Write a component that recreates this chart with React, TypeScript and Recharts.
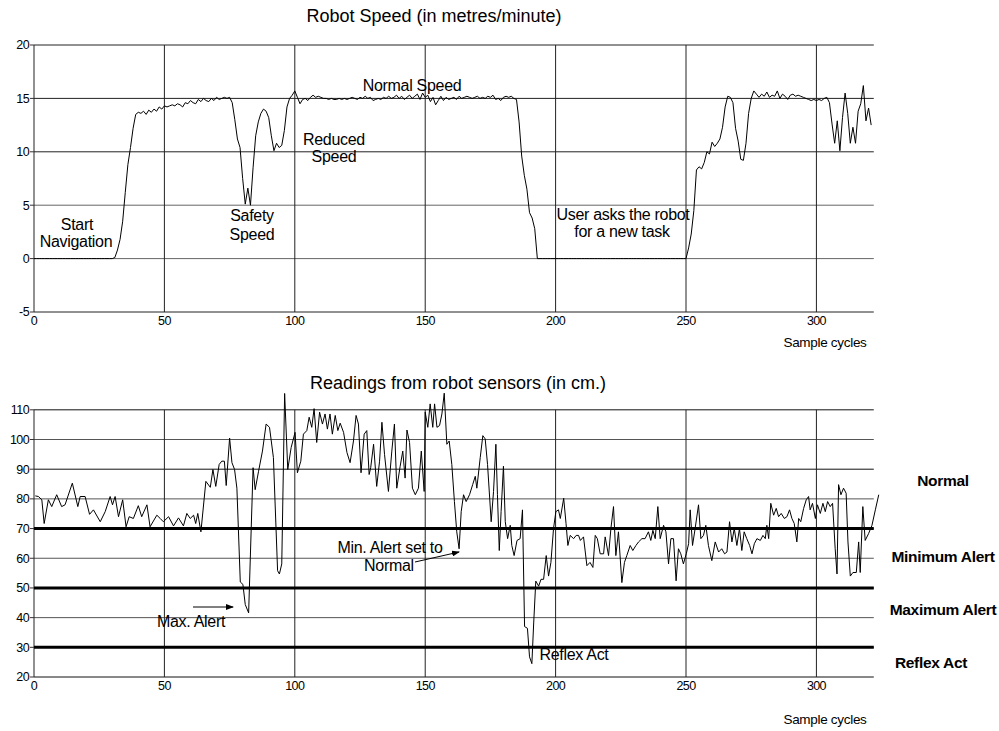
import React from "react";
import { LineChart, Line, XAxis, YAxis, ReferenceLine } from "recharts";

const FONT = '"Liberation Sans", Arial, Helvetica, sans-serif';

// Robot speed, one value per sample cycle (0..321)
const speedValues: number[] = [
  0, 0, 0, 0, 0, 0, 0, 0, 0, 0,
  0, 0, 0, 0, 0, 0, 0, 0, 0, 0,
  0, 0, 0, 0, 0, 0, 0, 0, 0, 0,
  0, 0.1, 0.8, 1.8, 3.5, 6.2, 8.8, 10.4, 12.2, 13.5,
  13.7, 13.6, 13.8, 13.5, 13.9, 13.7, 14.0, 13.8, 14.2, 14.0,
  14.3, 14.2, 14.3, 14.4, 14.3, 14.5, 14.4, 14.2, 14.6, 14.5,
  14.8, 14.6, 14.5, 14.9, 14.7, 15.0, 14.8, 14.7, 15.0, 14.8,
  15.1, 14.9, 15.0, 15.1, 15.0, 15.1, 14.6, 13.0, 11.2, 10.4,
  7.5, 5.1, 6.6, 5.0, 8.5, 11.5, 12.8, 13.6, 14.0, 13.8,
  13.2, 11.5, 10.1, 10.8, 10.4, 10.6, 12.0, 14.2, 15.0, 15.3,
  15.7, 15.1, 14.5, 14.9, 15.0, 14.8, 15.1, 15.3, 15.1, 15.2,
  15.1, 15.0, 15.0, 14.9, 15.0, 14.9, 14.9, 15.0, 14.9, 15.0,
  14.9, 15.0, 15.1, 15.0, 14.9, 15.1, 15.0, 15.2, 15.0, 15.1,
  14.8, 14.9, 15.0, 14.9, 15.1, 15.0, 15.2, 15.0, 15.1, 15.3,
  15.0, 15.2, 14.9, 15.1, 15.3, 15.0, 15.2, 15.4, 14.9, 15.5,
  15.1, 15.3, 14.7, 15.1, 14.4, 14.8, 15.2, 14.8, 15.1, 14.9,
  15.0, 15.1, 14.9, 15.2, 15.0, 15.1, 15.2, 15.1, 15.0, 15.1,
  15.2, 15.0, 15.1, 15.0, 15.2, 15.1, 15.3, 14.9, 15.0, 14.8,
  15.1, 15.2, 15.1, 15.2, 15.0, 14.9, 12.8, 9.6, 7.8, 6.5,
  4.3, 3.8, 2.8, 0, 0, 0, 0, 0, 0, 0,
  0, 0, 0, 0, 0, 0, 0, 0, 0, 0,
  0, 0, 0, 0, 0, 0, 0, 0, 0, 0,
  0, 0, 0, 0, 0, 0, 0, 0, 0, 0,
  0, 0, 0, 0, 0, 0, 0, 0, 0, 0,
  0, 0, 0, 0, 0, 0, 0, 0, 0, 0,
  0, 1.0, 2.3, 4.5, 8.3, 8.6, 8.4, 9.0, 10.0, 9.8,
  10.9, 10.5, 10.8, 11.2, 12.3, 14.2, 15.2, 15.1, 14.6, 12.2,
  11.0, 9.3, 9.2, 10.8, 13.6, 15.0, 15.7, 15.4, 15.1, 15.4,
  15.2, 15.6, 15.1, 15.3, 15.2, 15.7, 15.0, 15.4, 15.2, 14.9,
  15.3, 15.4, 15.2, 15.3, 15.2, 15.1, 15.0, 14.9, 14.8, 14.9,
  14.8, 14.9, 14.8, 15.0, 15.1, 14.6, 12.6, 10.8, 12.9, 10.1,
  13.2, 15.5, 13.6, 10.8, 12.3, 10.8, 13.8, 14.5, 16.2, 12.9,
  14.1, 12.5,
];

// Sensor readings (cm) at sample cycles
const sensorCycles: number[] = [
  0.5, 1.7, 3, 3.9, 5.5, 6.8, 8.7, 10.6, 11.9, 14.7, 16.8, 17.7, 19.6, 21.3, 22.8, 25.4, 27.3, 29.2, 30.1, 31.1,
  32.4, 34, 35.3, 36.5, 38.1, 40, 41.3, 43.3, 44.5, 47.1, 48.4, 49.6, 51.6, 53.5, 55.4, 57.3, 58.6, 59.9, 61.2, 62,
  62.8, 64, 65.9, 67.6, 68.6, 69.7, 71, 72, 73, 73.7, 75, 75.9, 76.9, 77.8, 79.1, 80.1, 81, 82.3, 84, 84.8,
  86.1, 87.6, 89, 90.3, 91.8, 93.4, 94.1, 95, 96.1, 97.3, 98.6, 100.1, 101, 102.3, 103.3, 104.6, 105.5, 106.5, 107.4, 108.4,
  109.5, 110.6, 111.6, 112.5, 113.5, 114.4, 115.5, 116.5, 117.4, 118.7, 120, 121.2, 122.5, 123.5, 124.4, 125.4, 126.6, 127.6, 128.5, 129.1,
  130.2, 131.4, 132.5, 133.4, 134.4, 135.9, 137.2, 138.2, 139.1, 140.4, 141.4, 142.3, 143, 144, 145.1, 146.2, 147.4, 148.5, 149.6, 150,
  151, 151.9, 152.9, 153.6, 154.5, 155.5, 156.4, 157.3, 158.3, 159.2, 160.2, 161.2, 162.1, 163, 163.8, 164.7, 165.7, 167, 168.2, 169.2,
  169.8, 171.1, 172.1, 173, 173.9, 175.3, 176.2, 177.1, 177.7, 178.4, 179.1, 180, 180.7, 181.6, 182.6, 183.2, 184.1, 185.2, 186.4, 187.3,
  188.1, 189.2, 190, 190.9, 191.6, 192.4, 193.5, 194.4, 195.4, 196.4, 197.3, 198.2, 199.2, 200.1, 201.1, 201.8, 203.1, 204, 204.7, 205.6,
  206.9, 207.9, 208.8, 209.5, 210.7, 212, 213.2, 214.3, 215.2, 216, 217.1, 218.4, 219, 220.3, 221.2, 222.2, 223.1, 224.1, 225.4, 226.4,
  227.3, 228.6, 229.6, 230.8, 231.8, 233.1, 234.3, 235.6, 236.5, 237.3, 238.2, 239.2, 240.1, 241.4, 242.3, 243.3, 244.2, 245.2, 246.2, 247.1,
  248, 249, 250.1, 251, 251.6, 252.5, 253.5, 254.8, 255.7, 256.7, 257.6, 258.6, 259.9, 261.2, 262.5, 263.7, 264.8, 265.7, 266.7, 267.6,
  268.5, 269.5, 270.5, 271.4, 272.3, 273.3, 274.4, 275.3, 276.2, 277.2, 278.5, 279.5, 280.4, 281, 281.7, 282.5, 283.6, 284.6, 285.5, 286.5,
  287.7, 288.7, 289.7, 290.6, 291.5, 292.5, 293.2, 294, 295.1, 296.1, 297, 297.6, 298.5, 299.6, 300.4, 301.5, 302.5, 303.4, 304.3, 305.3,
  306.2, 307.2, 307.9, 308.5, 309.4, 310.4, 311.4, 312.1, 313, 314, 315.3, 316.2, 316.8, 317.8, 318.7, 320, 321.3, 322.6, 323.9,
];
const sensorReadings: number[] = [
  81, 80.8, 79.7, 71.7, 79.7, 77.4, 81.4, 77.4, 78, 85.3, 77.4, 80.8, 80.8, 74.8, 76.3, 72.3, 75.7, 80.8, 78, 80.8,
  74, 79.7, 70.6, 74, 73.4, 77.7, 74, 78, 70.6, 74.5, 73.4, 72.3, 74, 70.9, 73.6, 70.9, 75.1, 73.4, 74.5, 71.7,
  75.1, 68.9, 85.9, 83.9, 89.9, 84.2, 91.6, 92.7, 92.7, 84.5, 100.5, 92.2, 89.9, 83.6, 52, 51.2, 44.4, 41.6, 90.5, 83.1,
  89.3, 96.1, 105.2, 104.1, 93.9, 55.8, 54.7, 58.1, 115.5, 89.9, 97.3, 102.4, 88.8, 92.7, 101.8, 103, 107.5, 104.1, 110.4, 99,
  109.2, 105.2, 108.6, 103.5, 108.6, 101.8, 108.1, 103, 105.5, 102.4, 95.6, 92.2, 99.5, 108.1, 105.2, 88.8, 101.8, 103, 88.2, 90.5,
  98.4, 84.2, 92.7, 105.8, 95, 82.5, 96.1, 105.2, 83.6, 91, 96.1, 87, 103.2, 99, 83.6, 81.4, 83.6, 96.1, 82.5, 109.2,
  104.1, 112, 104.1, 112, 104.1, 104.7, 108.6, 115.6, 98.4, 99.5, 91.6, 79.1, 68.9, 63.2, 75.7, 81.4, 79.1, 81.4, 84.8, 87.6,
  83.6, 93.9, 101.3, 100.2, 91.6, 72.3, 82.5, 98.4, 81.4, 62.6, 75.7, 91, 72.3, 66.6, 71.1, 64.3, 60.9, 66, 66.6, 76.3,
  37, 36.4, 26.8, 24.5, 38.2, 52.3, 50.6, 52.9, 52.9, 60.9, 54, 58.6, 70, 75.7, 76.3, 73.4, 80.2, 71.7, 64.3, 67.7,
  66.6, 67.7, 67.7, 66, 67.2, 57.5, 58.6, 56.9, 67.7, 66.6, 61.5, 61.5, 67.2, 60.9, 70, 77.4, 60.9, 68.9, 51.8, 58.6,
  60.9, 64.3, 62.6, 64.3, 65.5, 66.6, 66.6, 68.9, 66, 69.4, 66.6, 77.4, 66.6, 71.1, 68.9, 58.1, 66.6, 66.6, 52.4, 63.2,
  61.5, 58.1, 61.5, 64.9, 76.3, 64.3, 70, 78, 66.6, 67.7, 71.1, 64.3, 59.2, 65.5, 62.1, 63.2, 61.5, 62.1, 72.3, 65.5,
  70, 64.3, 70, 62.6, 68.9, 66.6, 64.3, 61.5, 64.9, 66.6, 66, 67.7, 66.6, 71.1, 66.6, 78.5, 74.5, 76.8, 74, 75.1,
  73.4, 74, 76.3, 73.4, 71.7, 65.5, 73.4, 72.3, 76.8, 79.7, 80.8, 76.3, 78.5, 73.4, 78, 75.1, 78.5, 75.7, 79.1, 77.4,
  78.5, 63.2, 54.7, 84.8, 81.4, 83.6, 81.9, 65.5, 54, 55.2, 55.2, 65.5, 55.2, 77.4, 66, 68.3, 71.1, 76.3, 81.4,
];

const cycleTicks = [0, 50, 100, 150, 200, 250, 300];
const speedTicks = [-5, 0, 5, 10, 15, 20];
const sensorTicks = [20, 30, 40, 50, 60, 70, 80, 90, 100, 110];
const alertLevels = [70, 50, 30];
const X_END = 322;

const speedData = speedValues.map((v, i) => ({ cycle: i, speed: v }));
const sensorData = sensorCycles.map((c, i) => ({ cycle: c, reading: sensorReadings[i] }));

const tickStyle = { fontSize: 12.5, fill: "#000", fontFamily: FONT, letterSpacing: -0.6 };

const SpeedChart = () => (
  <LineChart width={999} height={360} data={speedData} margin={{ top: 45, right: 120, bottom: 28, left: 0 }}>
    <XAxis type="number" dataKey="cycle" domain={[0, 324]} ticks={cycleTicks} interval={0}
      axisLine={false} tickLine={false} tickSize={0} tickMargin={4} height={20} tick={tickStyle} />
    <YAxis type="number" domain={[-5, 20]} ticks={speedTicks} interval={0} width={34}
      axisLine={false} tickLine={{ stroke: "#333" }} tickSize={4} tickMargin={1} tick={tickStyle} />
    {speedTicks.map((t) => (
      <ReferenceLine key={"h" + t} segment={[{ x: 0, y: t }, { x: X_END, y: t }]}
        stroke={t === 0 || t === 5 ? "#666" : "#222"} strokeWidth={1} />
    ))}
    {cycleTicks.map((t) => (
      <ReferenceLine key={"v" + t} segment={[{ x: t, y: -5 }, { x: t, y: 20 }]} stroke="#222" strokeWidth={1} />
    ))}
    <Line type="linear" dataKey="speed" stroke="#000" strokeWidth={1} dot={false} isAnimationActive={false} />
  </LineChart>
);

const SensorChart = () => (
  <LineChart width={999} height={371} data={sensorData} margin={{ top: 32, right: 120, bottom: 34, left: 0 }}>
    <XAxis type="number" dataKey="cycle" domain={[0, 324]} ticks={cycleTicks} interval={0}
      axisLine={false} tickLine={false} tickSize={0} tickMargin={4} height={20} tick={tickStyle} />
    <YAxis type="number" domain={[20, 116]} ticks={sensorTicks} interval={0} width={34}
      axisLine={false} tickLine={{ stroke: "#333" }} tickSize={4} tickMargin={1} tick={tickStyle} />
    {sensorTicks.map((t) => (
      <ReferenceLine key={"h" + t} segment={[{ x: 0, y: t }, { x: X_END, y: t }]}
        stroke={t === 110 || t === 20 || t === 90 ? "#111" : "#555"} strokeWidth={1} />
    ))}
    {cycleTicks.map((t) => (
      <ReferenceLine key={"v" + t} segment={[{ x: t, y: 20 }, { x: t, y: 110 }]} stroke="#222" strokeWidth={1} />
    ))}
    {alertLevels.map((t) => (
      <ReferenceLine key={"a" + t} segment={[{ x: 0, y: t }, { x: X_END, y: t }]} stroke="#000" strokeWidth={3} />
    ))}
    <Line type="linear" dataKey="reading" stroke="#000" strokeWidth={1} dot={false} isAnimationActive={false} />
  </LineChart>
);

const Annotations = () => {
  const t = { fontFamily: FONT, fill: "#000", letterSpacing: -0.3 } as const;
  const title = { fontFamily: FONT, fill: "#000" } as const;
  const bold = { fontFamily: FONT, fill: "#000", letterSpacing: -0.3 } as const;
  return (
    <svg width={999} height={731} style={{ position: "absolute", left: 0, top: 0, pointerEvents: "none" }}>
      <defs>
        <marker id="arr" markerWidth="8" markerHeight="6" refX="7" refY="3" orient="auto" markerUnits="userSpaceOnUse">
          <path d="M0,0 L8,3 L0,6 Z" fill="#000" />
        </marker>
      </defs>
      <text x={434} y={22} textAnchor="middle" fontSize={18} {...title}>Robot Speed (in metres/minute)</text>
      <text x={458} y={389} textAnchor="middle" fontSize={18} {...title}>Readings from robot sensors (in cm.)</text>
      <text x={825} y={347} textAnchor="middle" fontSize={13.5} {...t}>Sample cycles</text>
      <text x={825} y={724} textAnchor="middle" fontSize={13.5} {...t}>Sample cycles</text>

      <g fontSize={16}>
        <text x={77} y={230} textAnchor="middle" {...t}>Start</text>
        <text x={76} y={247} textAnchor="middle" {...t}>Navigation</text>
        <text x={252} y={221} textAnchor="middle" {...t}>Safety</text>
        <text x={252} y={240} textAnchor="middle" {...t}>Speed</text>
        <text x={334} y={145} textAnchor="middle" {...t}>Reduced</text>
        <text x={334} y={162} textAnchor="middle" {...t}>Speed</text>
        <text x={412} y={91} textAnchor="middle" {...t}>Normal Speed</text>
        <text x={623} y={220} textAnchor="middle" {...t}>User asks the robot</text>
        <text x={622} y={237} textAnchor="middle" {...t}>for a new task</text>

        <text x={191} y={627} textAnchor="middle" {...t}>Max. Alert</text>
        <text x={390} y={553} textAnchor="middle" {...t}>Min. Alert set to</text>
        <text x={389} y={571} textAnchor="middle" {...t}>Normal</text>
        <text x={574} y={660} textAnchor="middle" {...t}>Reflex Act</text>
      </g>
      <line x1={193} y1={607} x2={233} y2={607} stroke="#000" strokeWidth={1} markerEnd="url(#arr)" />
      <line x1={415} y1={562} x2={459} y2={552} stroke="#000" strokeWidth={1} markerEnd="url(#arr)" />

      <g fontSize={15.5} fontWeight="bold">
        <text x={943} y={486} textAnchor="middle" {...bold}>Normal</text>
        <text x={943} y={562} textAnchor="middle" {...bold}>Minimum Alert</text>
        <text x={943} y={615} textAnchor="middle" {...bold}>Maximum Alert</text>
        <text x={931} y={668} textAnchor="middle" {...bold}>Reflex Act</text>
      </g>
    </svg>
  );
};

export default function App() {
  return (
    <div style={{ position: "absolute", left: 0, top: 0, width: 999, height: 731, background: "#fff" }}>
      <div style={{ position: "absolute", left: 0, top: 0 }}>
        <SpeedChart />
      </div>
      <div style={{ position: "absolute", left: 0, top: 360 }}>
        <SensorChart />
      </div>
      <Annotations />
    </div>
  );
}
